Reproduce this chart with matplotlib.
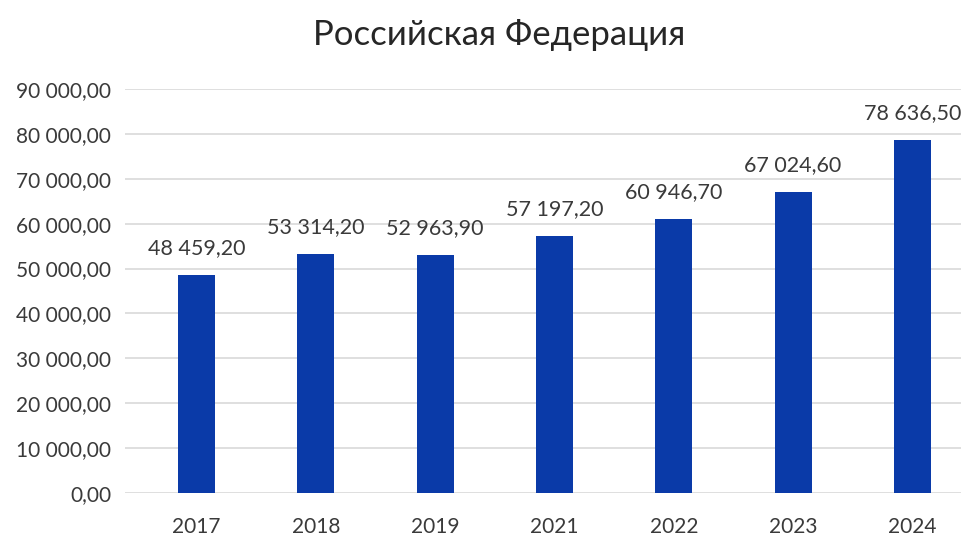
import matplotlib
matplotlib.use("Agg")
import matplotlib.pyplot as plt
from matplotlib.ticker import FuncFormatter, MultipleLocator

plt.rcParams['font.family'] = ['Lato', 'Noto Sans', 'DejaVu Sans']

years = ["2017", "2018", "2019", "2021", "2022", "2023", "2024"]
values = [48459.20, 53314.20, 52963.90, 57197.20, 60946.70, 67024.60, 78636.50]

BAR_COLOR = "#0a3aa8"
TEXT_COLOR = "#3a3a3a"


def ru_fmt(v, pos=None):
    s = "{:,.2f}".format(v)
    return s.replace(",", " ").replace(".", ",")


W, H = 961, 538
fig = plt.figure(figsize=(W / 100, H / 100), dpi=100)
left, right, bottom, top = 125, 972, 493, 89
ax = fig.add_axes([left / W, (H - bottom) / H, (right - left) / W, (bottom - top) / H])

x = range(len(years))
bars = ax.bar(x, values, width=0.31, color=BAR_COLOR, zorder=3)

for b, v in zip(bars, values):
    ax.annotate(ru_fmt(v), (b.get_x() + b.get_width() / 2, v),
                xytext=(0, 17), textcoords="offset pixels",
                ha="center", va="bottom", fontsize=15.5, color=TEXT_COLOR)

ax.set_xlim(-0.6, 6.5)
ax.set_ylim(0, 90000)
ax.yaxis.set_major_locator(MultipleLocator(10000))
ax.yaxis.set_major_formatter(FuncFormatter(ru_fmt))
ax.set_xticks(list(x))
ax.set_xticklabels(years)

ax.grid(axis="y", color="#d9d9d9", linewidth=1.2, zorder=0)
for sp in ax.spines.values():
    sp.set_visible(False)
ax.tick_params(axis="both", length=0, labelsize=15, labelcolor=TEXT_COLOR)
ax.tick_params(axis="y", pad=10)
ax.tick_params(axis="x", pad=17)

fig.text(499 / W, 1 - 35 / H, "Российская Федерация", ha="center", va="center",
         fontsize=25, color="#262626")

fig.savefig("out.png", dpi=100)
